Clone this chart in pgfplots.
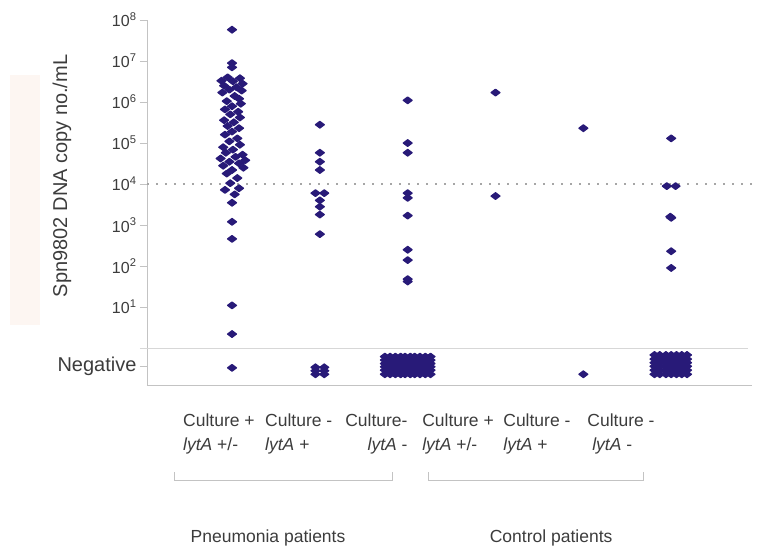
\documentclass[border=0pt]{standalone}
\usepackage{fontspec}
\setmainfont{Liberation Sans}
\usepackage{pgfplots}
\pgfplotsset{compat=1.18}
\definecolor{dot}{RGB}{40,26,120}
\definecolor{txt}{RGB}{60,60,60}
\definecolor{axgray}{RGB}{195,195,195}
\definecolor{sepgray}{RGB}{215,215,215}
\definecolor{pale}{RGB}{253,246,242}
\pgfplotsset{dots/.style={only marks, mark=diamond*, mark size=4.4bp,
   mark options={rotate=90, fill=dot, draw=dot, line width=1.3bp, line join=round}}}
\begin{document}
\begin{tikzpicture}
\useasboundingbox (-147bp,-168bp) rectangle (614bp,385bp);
\fill[pale] (-137bp,60bp) rectangle (-107bp,310bp);
\begin{axis}[
  at={(0,0)}, anchor=south west, scale only axis,
  width=605bp, height=365bp,
  ymode=log, ymin=0.12589, ymax=1e8,
  xmin=0.032, xmax=6.92,
  clip=false,
  axis lines=left,
  axis line style={axgray, line width=0.9bp, -},
  tick align=outside,
  major tick length=7bp,
  minor tick num=0,
  minor y tick style={draw=none},
  y tick style={axgray, line width=0.9bp},
  x tick style={draw=none},
  ytick={0.35,10,100,1000,1e4,1e5,1e6,1e7,1e8},
  yticklabels={{\fontsize{20bp}{20bp}\selectfont Negative},
    10\textsuperscript{1},10\textsuperscript{2},10\textsuperscript{3},10\textsuperscript{4},
    10\textsuperscript{5},10\textsuperscript{6},10\textsuperscript{7},10\textsuperscript{8}},
  yticklabel style={font=\fontsize{16bp}{16bp}\selectfont, text=txt},
  xtick={0.442,1.376,2.287,3.164,4.087,5.044},
  xticklabels={
    {\begin{tabular}{@{}l@{}}Culture +\\\textit{lytA} +/-\end{tabular}},
    {\begin{tabular}{@{}l@{}}Culture -\\\textit{lytA} +\end{tabular}},
    {\begin{tabular}{@{}r@{}}Culture-\\\textit{lytA} -\end{tabular}},
    {\begin{tabular}{@{}l@{}}Culture +\\\textit{lytA} +/-\end{tabular}},
    {\begin{tabular}{@{}l@{}}Culture -\\\textit{lytA} +\end{tabular}},
    {\begin{tabular}{@{}l@{}}Culture -\\\ \textit{lytA} -\end{tabular}}},
  xticklabel style={anchor=north west, inner sep=0pt, yshift=-17.7bp,
    font=\fontsize{17.5bp}{24bp}\selectfont, text=txt},
  ylabel={Spn9802 DNA copy no./mL},
  ylabel style={at={(axis description cs:-0.1405,0.573)}, anchor=center,
    font=\fontsize{20bp}{20bp}\selectfont, text=txt},
]
% reference lines and group brackets
\draw[sepgray, line width=1bp] ([xshift=-7bp]axis cs:0.032,1) -- (axis cs:6.877,1);
\draw[gray!70, dash pattern=on 2bp off 7bp, line width=1.6bp] (axis cs:0.032,1e4) -- (axis cs:6.92,1e4);
\draw[axgray, line width=0.9bp] ([yshift=-87bp]axis cs:0.339,0.12589) -- ([yshift=-95bp]axis cs:0.339,0.12589)
   -- ([yshift=-95bp]axis cs:2.822,0.12589) -- ([yshift=-87bp]axis cs:2.822,0.12589);
\draw[axgray, line width=0.9bp] ([yshift=-87bp]axis cs:3.232,0.12589) -- ([yshift=-95bp]axis cs:3.232,0.12589)
   -- ([yshift=-95bp]axis cs:5.681,0.12589) -- ([yshift=-87bp]axis cs:5.681,0.12589);
\node[font=\fontsize{17.5bp}{20bp}\selectfont, text=txt] at ([yshift=-153bp]axis cs:1.41,0.12589) {Pneumonia patients};
\node[font=\fontsize{17.5bp}{20bp}\selectfont, text=txt] at ([yshift=-153bp]axis cs:4.633,0.12589) {Control patients};

% Pneumonia: Culture + lytA +/-
\addplot[dots] coordinates {
 (1.00,5.8e7) (1.00,8.9e6) (1.00,7.0e6)
 (0.95,4.0e6) (1.09,3.8e6) (0.88,3.3e6) (1.01,3.2e6) (1.12,2.8e6) (0.91,2.5e6)
 (1.05,2.3e6) (0.97,2.0e6) (1.11,1.9e6) (0.89,1.7e6) (1.03,1.4e6) (1.08,1.2e6)
 (0.94,1.05e6) (1.10,9.1e5) (1.00,7.9e5) (0.92,6.6e5) (1.07,5.8e5) (0.98,5.0e5)
 (1.09,4.2e5) (0.91,3.6e5) (1.02,3.2e5) (0.95,2.6e5) (1.08,2.3e5) (1.00,1.9e5)
 (0.92,1.6e5) (1.06,1.3e5) (0.97,1.1e5) (1.09,9.1e4) (0.90,7.9e4) (1.01,6.9e4)
 (0.93,5.8e4) (1.12,5.2e4) (1.04,4.6e4) (0.87,4.2e4) (1.15,3.8e4) (0.97,3.5e4)
 (1.08,3.2e4) (0.90,2.8e4) (1.13,2.5e4) (1.00,2.2e4) (0.94,1.8e4) (1.06,1.4e4)
 (0.98,1.05e4) (1.08,7.9e3) (0.92,7.2e3) (1.03,5.6e3)
 (1.00,3.5e3) (1.00,1.2e3) (1.00,4.6e2) (1.00,11) (1.00,2.2) (1.00,0.33)
};
% Pneumonia: Culture - lytA +
\addplot[dots] coordinates {
 (2.00,2.8e5) (2.00,5.8e4) (2.00,3.5e4) (2.00,2.2e4)
 (1.95,6.0e3) (2.05,6.0e3) (2.00,4.0e3) (2.00,2.8e3) (2.00,1.8e3) (2.00,6.0e2)
 (1.95,0.34) (2.05,0.34) (1.95,0.28) (2.05,0.28) (1.95,0.23) (2.05,0.23)
};
% Pneumonia: Culture - lytA -
\addplot[dots] coordinates {
 (3.00,1.1e6) (3.00,1.0e5) (3.00,5.8e4) (3.00,6.0e3) (3.00,4.6e3) (3.00,1.7e3)
 (3.00,2.5e2) (3.00,1.4e2) (3.00,48) (3.00,42)
 (2.74,0.62) (2.80,0.62) (2.86,0.62) (2.92,0.62) (2.97,0.62) (3.03,0.62) (3.08,0.62) (3.14,0.62) (3.20,0.62) (3.26,0.62)
 (2.74,0.51) (2.80,0.51) (2.86,0.51) (2.92,0.51) (2.97,0.51) (3.03,0.51) (3.08,0.51) (3.14,0.51) (3.20,0.51) (3.26,0.51)
 (2.74,0.42) (2.80,0.42) (2.86,0.42) (2.92,0.42) (2.97,0.42) (3.03,0.42) (3.08,0.42) (3.14,0.42) (3.20,0.42) (3.26,0.42)
 (2.74,0.35) (2.80,0.35) (2.86,0.35) (2.92,0.35) (2.97,0.35) (3.03,0.35) (3.08,0.35) (3.14,0.35) (3.20,0.35) (3.26,0.35)
 (2.74,0.29) (2.80,0.29) (2.86,0.29) (2.92,0.29) (2.97,0.29) (3.03,0.29) (3.08,0.29) (3.14,0.29) (3.20,0.29) (3.26,0.29)
 (2.74,0.23) (2.80,0.23) (2.86,0.23) (2.92,0.23) (2.97,0.23) (3.03,0.23) (3.08,0.23) (3.14,0.23) (3.20,0.23) (3.26,0.23)
};
% Control: Culture + lytA +/-
\addplot[dots] coordinates {(4.00,1.7e6) (4.00,5.1e3)};
% Control: Culture - lytA +
\addplot[dots] coordinates {(5.00,2.3e5) (5.00,0.23)};
% Control: Culture - lytA -
\addplot[dots] coordinates {
 (6.00,1.3e5) (5.95,8.9e3) (6.05,8.9e3) (6.00,1.5e3) (5.99,1.6e3) (6.00,2.3e2) (6.00,90)
 (5.81,0.68) (5.87,0.68) (5.94,0.68) (6.00,0.68) (6.06,0.68) (6.12,0.68) (6.18,0.68)
 (5.81,0.54) (5.87,0.54) (5.94,0.54) (6.00,0.54) (6.06,0.54) (6.12,0.54) (6.18,0.54)
 (5.81,0.44) (5.87,0.44) (5.94,0.44) (6.00,0.44) (6.06,0.44) (6.12,0.44) (6.18,0.44)
 (5.81,0.36) (5.87,0.36) (5.94,0.36) (6.00,0.36) (6.06,0.36) (6.12,0.36) (6.18,0.36)
 (5.81,0.29) (5.87,0.29) (5.94,0.29) (6.00,0.29) (6.06,0.29) (6.12,0.29) (6.18,0.29)
 (5.81,0.23) (5.87,0.23) (5.94,0.23) (6.00,0.23) (6.06,0.23) (6.12,0.23) (6.18,0.23)
};
\end{axis}
\end{tikzpicture}
\end{document}
